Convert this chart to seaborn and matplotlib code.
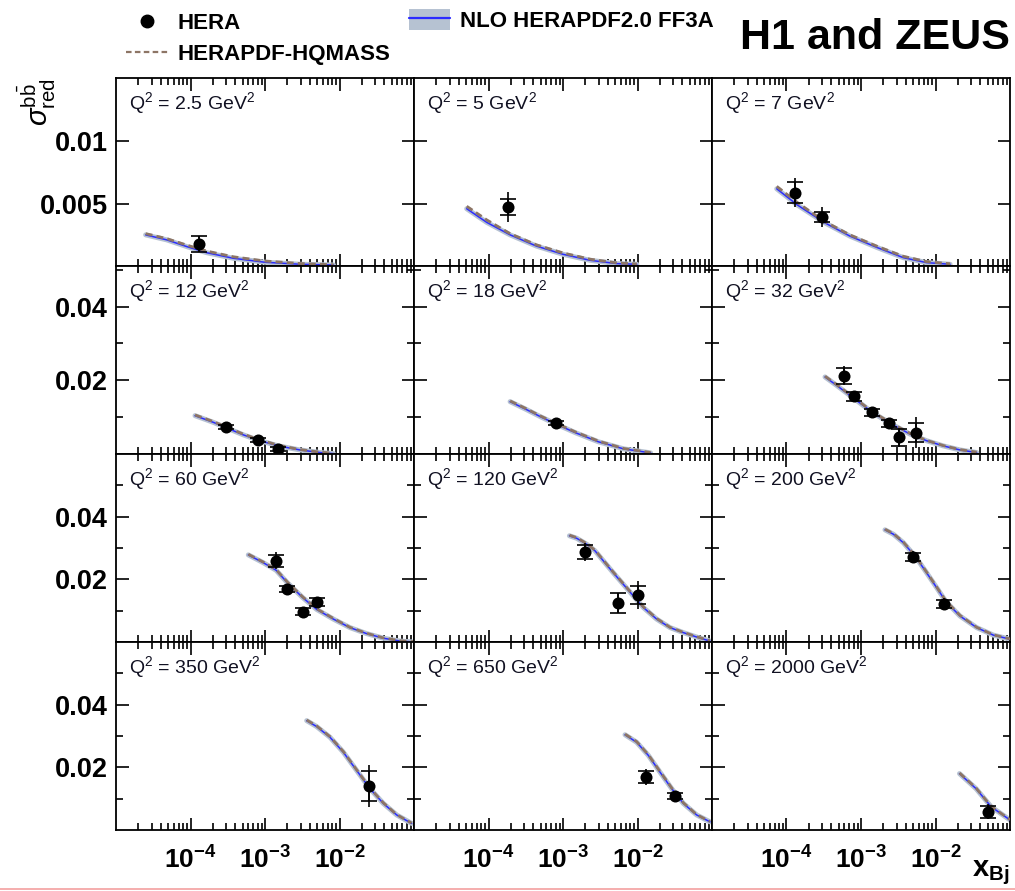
import numpy as np
import pandas as pd
import matplotlib
matplotlib.use("Agg")
import matplotlib.pyplot as plt
import seaborn as sns
from matplotlib.lines import Line2D
from matplotlib.patches import Patch
from matplotlib.ticker import LogLocator, NullFormatter, FixedLocator

# ---------------- data ----------------
Q2_BINS = [2.5, 5, 7, 12, 18, 32, 60, 120, 200, 350, 650, 2000]
Q2_LABELS = ["2.5", "5", "7", "12", "18", "32", "60", "120", "200", "350", "650", "2000"]

# HERA combined beauty reduced cross sections
DATA_Q2 = [2.5, 5, 7, 7, 12, 12, 12, 18,
           32, 32, 32, 32, 32, 32,
           60, 60, 60, 60, 120, 120, 120, 200, 200,
           350, 650, 650, 2000]
DATA_X = [1.3e-4, 1.8e-4, 1.3e-4, 3.0e-4, 3.0e-4, 8.0e-4, 1.5e-3, 8.0e-4,
          6.0e-4, 8.0e-4, 1.4e-3, 2.4e-3, 3.2e-3, 5.5e-3,
          1.4e-3, 2.0e-3, 3.2e-3, 5.0e-3, 2.0e-3, 5.5e-3, 1.0e-2, 5.0e-3, 1.3e-2,
          2.5e-2, 1.3e-2, 3.2e-2, 5.0e-2]
DATA_Y = [0.00177, 0.00474, 0.00590, 0.00395, 0.0074, 0.0038, 0.0014, 0.0085,
          0.0212, 0.0156, 0.0113, 0.0083, 0.0045, 0.0058,
          0.0259, 0.0168, 0.0097, 0.0128, 0.0288, 0.0124, 0.0150, 0.0272, 0.0122,
          0.0140, 0.0169, 0.0108, 0.0058]
DATA_STAT = [0.00065, 0.00065, 0.00087, 0.00040, 0.0005, 0.0005, 0.0005, 0.0005,
             0.0022, 0.0012, 0.0010, 0.0010, 0.0024, 0.0025,
             0.0020, 0.0010, 0.0010, 0.0012, 0.0022, 0.0032, 0.0030, 0.0012, 0.0012,
             0.0048, 0.0018, 0.0010, 0.0020]
DATA_TOT = [0.00065, 0.00120, 0.00120, 0.00080, 0.0008, 0.0008, 0.0008, 0.0008,
            0.0026, 0.0015, 0.0012, 0.0012, 0.0026, 0.0042,
            0.0027, 0.0013, 0.0012, 0.0015, 0.0028, 0.0033, 0.0045, 0.0018, 0.0018,
            0.0066, 0.0025, 0.0012, 0.0024]

# theory curves: NLO HERAPDF2.0 FF3A (CURVE_NLO) and HERAPDF-HQMASS (CURVE_HQ)
CURVE_Q2 = ([2.5] * 8 + [5] * 8 + [7] * 8 + [12] * 9 + [18] * 8 + [32] * 10 +
            [60] * 12 + [120] * 14 + [200] * 11 + [350] * 9 + [650] * 8 + [2000] * 4)
CURVE_X = [2.5e-5, 4.8e-5, 8.9e-5, 1.65e-4, 3.76e-4, 1.0e-3, 2.95e-3, 8.3e-3,
           5.1e-5, 9.5e-5, 1.95e-4, 4.4e-4, 1.0e-3, 2.3e-3, 5.3e-3, 9.8e-3,
           7.4e-5, 1.4e-4, 3.2e-4, 7.1e-4, 1.62e-3, 3.7e-3, 7.6e-3, 1.57e-2,
           1.15e-4, 2.02e-4, 3.21e-4, 5.1e-4, 8.0e-4, 1.5e-3, 2.95e-3, 5.5e-3, 8.3e-3,
           1.95e-4, 3.2e-4, 5.0e-4, 8.3e-4, 1.5e-3, 3.0e-3, 6.5e-3, 1.5e-2,
           3.29e-4, 4.72e-4, 8.5e-4, 1.49e-3, 2.58e-3, 4.55e-3, 7.6e-3, 1.27e-2, 2.13e-2, 3.57e-2,
           5.97e-4, 9.5e-4, 1.41e-3, 2.0e-3, 3.2e-3, 4.94e-3, 8.3e-3, 1.38e-2, 2.3e-2, 3.9e-2, 6.5e-2, 1.0e-1,
           1.22e-3, 1.53e-3, 2.08e-3, 2.69e-3, 3.48e-3, 4.73e-3, 6.46e-3, 8.8e-3, 1.2e-2, 1.81e-2,
           2.73e-2, 4.12e-2, 6.2e-2, 9.4e-2,
           2.1e-3, 2.72e-3, 3.7e-3, 5.4e-3, 7.6e-3, 1.04e-2, 1.38e-2, 2.13e-2, 3.57e-2, 5.97e-2, 1.0e-1,
           3.63e-3, 4.94e-3, 7.45e-3, 1.12e-2, 1.7e-2, 2.56e-2, 3.87e-2, 5.86e-2, 9.3e-2,
           6.8e-3, 9.75e-3, 1.4e-2, 2.0e-2, 2.88e-2, 4.12e-2, 6.23e-2, 9.4e-2,
           2.1e-2, 3.5e-2, 5.6e-2, 1.0e-1]
CURVE_NLO = [0.0025, 0.0021, 0.00156, 0.00107, 0.00062, 0.0003, 0.00014, 0.00008,
             0.0046, 0.0035, 0.0025, 0.0016, 0.00094, 0.00046, 0.00019, 0.00014,
             0.0062, 0.0049, 0.0035, 0.0024, 0.0015, 0.00067, 0.00027, 0.00014,
             0.0104, 0.0086, 0.0069, 0.0052, 0.0038, 0.0022, 0.0011, 0.0004, 0.0001,
             0.0142, 0.0121, 0.0101, 0.0080, 0.0057, 0.0033, 0.0014, 0.0003,
             0.0209, 0.0186, 0.0147, 0.0110, 0.0081, 0.0054, 0.0036, 0.0022, 0.0011, 0.0004,
             0.0278, 0.0253, 0.0229, 0.0189, 0.0142, 0.0104, 0.0073, 0.0046, 0.0027, 0.0012, 0.0003, 0.0,
             0.0339, 0.0331, 0.0312, 0.0291, 0.0259, 0.0221, 0.0184, 0.0147, 0.0110, 0.0073,
             0.0046, 0.0030, 0.0016, 0.0003,
             0.0358, 0.0344, 0.0317, 0.0272, 0.0221, 0.0173, 0.0129, 0.0083, 0.0046, 0.0022, 0.0009,
             0.0349, 0.0330, 0.0296, 0.0249, 0.0190, 0.0132, 0.0085, 0.0048, 0.0021,
             0.0304, 0.0280, 0.0238, 0.0185, 0.0132, 0.0085, 0.0048, 0.0026,
             0.0180, 0.0132, 0.0074, 0.0032]
CURVE_HQ = [0.0026, 0.0022, 0.00168, 0.0012, 0.00074, 0.0004, 0.0002, 0.0001,
            0.0048, 0.0037, 0.0026, 0.0017, 0.00105, 0.00055, 0.00025, 0.00016,
            0.0064, 0.0051, 0.0036, 0.0025, 0.0016, 0.00078, 0.00035, 0.00018,
            0.0106, 0.0088, 0.0071, 0.0054, 0.0040, 0.0024, 0.0012, 0.0005, 0.0002,
            0.0144, 0.0123, 0.0103, 0.0082, 0.0059, 0.0035, 0.0015, 0.0004,
            0.0211, 0.0188, 0.0149, 0.0112, 0.0083, 0.0056, 0.0037, 0.0023, 0.0012, 0.0005,
            0.0280, 0.0255, 0.0231, 0.0191, 0.0144, 0.0106, 0.0075, 0.0047, 0.0028, 0.0013, 0.0004, 0.0001,
            0.0341, 0.0333, 0.0314, 0.0293, 0.0261, 0.0223, 0.0186, 0.0149, 0.0112, 0.0075,
            0.0047, 0.0031, 0.0017, 0.0004,
            0.0360, 0.0346, 0.0319, 0.0274, 0.0223, 0.0175, 0.0131, 0.0085, 0.0047, 0.0023, 0.0010,
            0.0351, 0.0332, 0.0298, 0.0251, 0.0192, 0.0134, 0.0087, 0.0049, 0.0022,
            0.0306, 0.0282, 0.0240, 0.0187, 0.0134, 0.0087, 0.0049, 0.0027,
            0.0182, 0.0134, 0.0075, 0.0033]

ROW_YMAX = [0.0151, 0.051, 0.060, 0.060]
ROW_YTICKS = [[0.005, 0.01], [0.02, 0.04], [0.02, 0.04], [0.02, 0.04]]
ROW_YTICK_LABELS = [["0.005", "0.01"], ["0.02", "0.04"], ["0.02", "0.04"], ["0.02", "0.04"]]
ROW_YMINOR = [[], [0.01, 0.03, 0.05], [0.01, 0.03, 0.05], [0.01, 0.03, 0.05]]
XTICKS = [1e-4, 1e-3, 1e-2]
XTICK_LABELS = [r"$\mathbf{10^{-4}}$", r"$\mathbf{10^{-3}}$", r"$\mathbf{10^{-2}}$"]

data = pd.DataFrame({"q2": DATA_Q2, "x": DATA_X, "y": DATA_Y,
                     "stat": DATA_STAT, "tot": DATA_TOT})
curves = pd.DataFrame({"q2": CURVE_Q2, "x": CURVE_X, "nlo": CURVE_NLO, "hq": CURVE_HQ})

# ---------------- style ----------------
sns.set_theme(style="ticks")
plt.rcParams["font.family"] = ["Liberation Sans", "DejaVu Sans"]
plt.rcParams["mathtext.fontset"] = "custom"
plt.rcParams["mathtext.rm"] = "Liberation Sans"
plt.rcParams["mathtext.it"] = "Liberation Sans:italic"
plt.rcParams["mathtext.bf"] = "Liberation Sans:bold"
plt.rcParams["axes.edgecolor"] = "black"
plt.rcParams["axes.linewidth"] = 1.3
plt.rcParams["text.color"] = "black"
plt.rcParams["xtick.color"] = "black"
plt.rcParams["ytick.color"] = "black"

BAND_C = "#b6c2d2"
NLO_C = "#2b2bff"
HQ_C = "#8d7565"

fig, axes = plt.subplots(4, 3, figsize=(10.15, 8.91), dpi=100, sharex=True)
fig.subplots_adjust(left=116 / 1015, right=1010 / 1015, top=1 - 78 / 891,
                    bottom=1 - 830 / 891, wspace=0, hspace=0)

for i, (q, lab) in enumerate(zip(Q2_BINS, Q2_LABELS)):
    r, c = divmod(i, 3)
    ax = axes[r, c]
    cdf = curves[curves.q2 == q]
    ddf = data[data.q2 == q]

    sns.lineplot(data=cdf, x="x", y="nlo", ax=ax, color=BAND_C, lw=3.6,
                 sort=False, estimator=None, zorder=2)
    sns.lineplot(data=cdf, x="x", y="nlo", ax=ax, color=NLO_C, lw=1.1,
                 sort=False, estimator=None, zorder=3)
    sns.lineplot(data=cdf, x="x", y="hq", ax=ax, color=HQ_C, lw=2.0,
                 linestyle=(0, (2.5, 1.5)), sort=False, estimator=None, zorder=4)

    ax.errorbar(ddf.x, ddf.y, yerr=ddf.tot, fmt="none", ecolor="black",
                elinewidth=1.2, capsize=0, zorder=5)
    ax.errorbar(ddf.x, ddf.y, yerr=ddf.stat, fmt="none", ecolor="black",
                elinewidth=1.2, capsize=6, capthick=1.2, zorder=5)
    sns.scatterplot(data=ddf, x="x", y="y", ax=ax, color="black", s=75,
                    edgecolor="black", linewidth=0, zorder=6)

    ax.set_xscale("log")
    ax.set_xlim(1e-5, 1e-1)
    ax.set_ylim(0, ROW_YMAX[r])
    ax.set_xlabel("")
    ax.set_ylabel("")

    ax.xaxis.set_major_locator(FixedLocator(XTICKS))
    ax.xaxis.set_minor_locator(LogLocator(base=10, subs=np.arange(2, 10), numticks=20))
    ax.xaxis.set_minor_formatter(NullFormatter())
    ax.set_yticks(ROW_YTICKS[r])
    ax.yaxis.set_minor_locator(FixedLocator(ROW_YMINOR[r]))
    if c == 0:
        ax.set_yticklabels(ROW_YTICK_LABELS[r], fontsize=19.5, fontweight="bold")
    else:
        ax.set_yticklabels([])
    if r == 3:
        ax.set_xticklabels(XTICK_LABELS, fontsize=19)
    ax.tick_params(which="both", direction="in", top=True, right=True,
                   color="black", width=1.2)
    ax.tick_params(which="major", length=9, pad=6)
    ax.tick_params(which="minor", length=5)
    ax.tick_params(axis="x", which="major", pad=12)

    ax.text(0.045, 0.935, f"Q$^{{2}}$ = {lab} GeV$^{{2}}$", transform=ax.transAxes,
            ha="left", va="top", fontsize=14, color="#111122")

# ---------------- legend / labels ----------------
h_hera = Line2D([], [], marker="o", color="black", ls="none", ms=9)
h_hq = Line2D([], [], color=HQ_C, ls=(0, (2.5, 1.5)), lw=1.6)
leg1 = fig.legend([h_hera, h_hq], ["HERA", "HERAPDF-HQMASS"], loc="upper left",
                  bbox_to_anchor=(126 / 1015, 1 - 13 / 891), frameon=False,
                  prop=dict(weight="bold", size=16), handlelength=1.9,
                  handletextpad=0.4, labelspacing=0.45, borderpad=0, borderaxespad=0)
h_band = (Patch(facecolor=BAND_C, edgecolor="none"), Line2D([], [], color=NLO_C, lw=1.6))
leg2 = fig.legend([h_band], ["NLO HERAPDF2.0 FF3A"], loc="upper left",
                  bbox_to_anchor=(409 / 1015, 1 - 9 / 891), frameon=False,
                  prop=dict(weight="bold", size=16), handlelength=1.85,
                  handleheight=1.05, handletextpad=0.45, borderpad=0, borderaxespad=0)

fig.text(1010 / 1015, 1 - 38 / 891, "H1 and ZEUS", ha="right", va="center",
         fontsize=31, fontweight="bold")
fig.text(37 / 1015, 1 - 78 / 891, r"$\sigma_{\mathrm{red}}^{\mathrm{b\bar{b}}}$", rotation=90,
         ha="center", va="top", fontsize=21)
fig.text(972 / 1015, 1 - 876 / 891, r"$\mathbf{x_{Bj}}$", ha="left", va="baseline",
         fontsize=21)
fig.add_artist(Line2D([0, 1], [1 - 889 / 891] * 2, transform=fig.transFigure,
                      color="#f4a0a0", lw=1.2))

fig.savefig("out.png", dpi=100)
